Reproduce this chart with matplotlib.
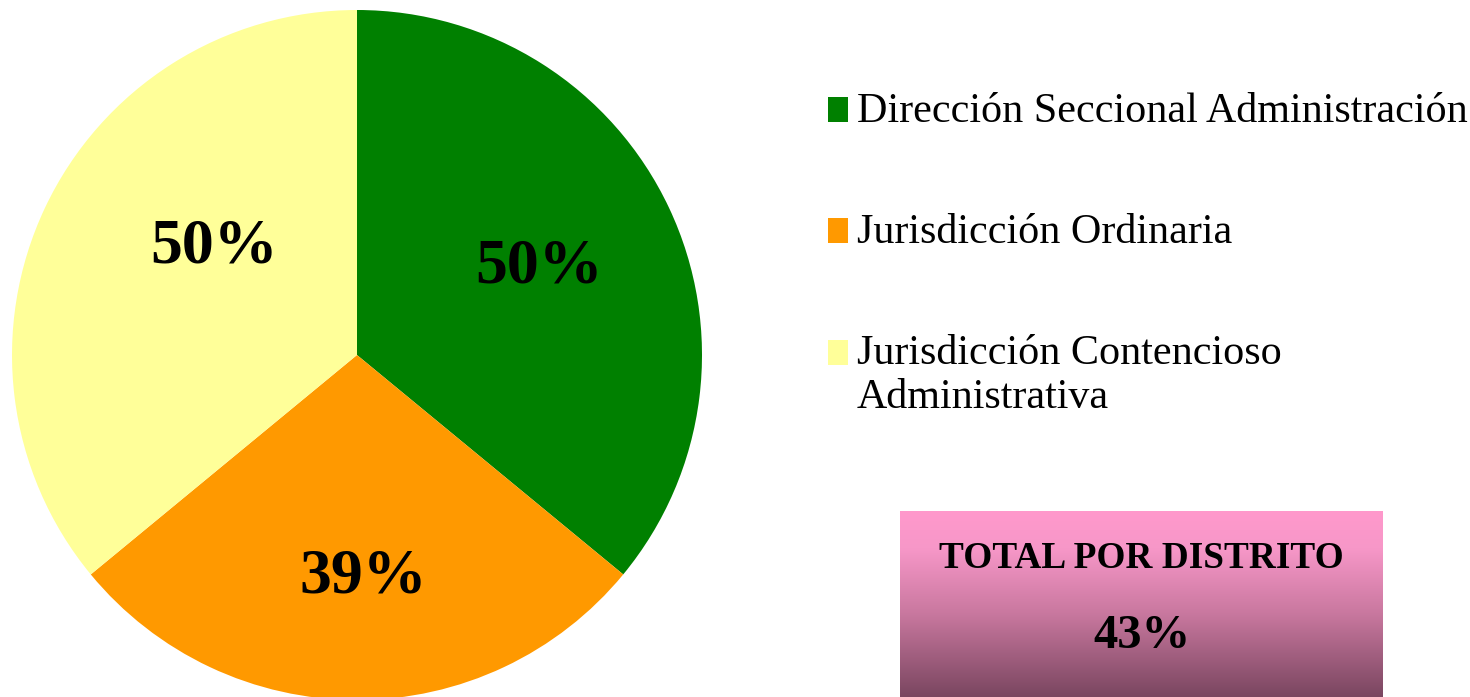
import numpy as np
import matplotlib

matplotlib.use('agg')
import matplotlib.pyplot as plt
from matplotlib.colors import LinearSegmentedColormap
from matplotlib.patches import Rectangle

# data
categories = ['Dirección Seccional Administración',
              'Jurisdicción Ordinaria',
              'Jurisdicción Contencioso\nAdministrativa']
values = [50, 39, 50]
colors = ['#008000', '#ff9900', '#ffff99']
total_label = 'TOTAL POR DISTRITO'
total_value = 43

W, H = 1470, 697
serif = 'Liberation Serif'


def fx(x):
    return x / W


def fy(y):
    # y measured from top in pixels
    return 1 - y / H


fig = plt.figure(figsize=(W / 100, H / 100), dpi=100)

# pie
ax = fig.add_axes([fx(12), fy(700), 690 / W, 690 / H])
wedges, _ = ax.pie(values, colors=colors, startangle=90,
                   counterclock=False, radius=1)
ax.set_xlim(-1, 1)
ax.set_ylim(-1, 1)
ax.axis('off')

# label positions inside each slice (data units, baseline)
label_pos = [(0.528, 0.209), (0.017, -0.687), (-0.414, 0.267)]
for v, (lx, ly) in zip(values, label_pos):
    ax.text(lx, ly, '%d%%' % v, ha='center', va='baseline',
            fontsize=46, fontweight='bold', family=serif)

# legend
rows_y = [122, 243, 365]
line_gap = 43
for cat, col, by in zip(categories, colors, rows_y):
    fig.patches.append(Rectangle((fx(828), fy(by)), 20 / W, 25 / H,
                                 transform=fig.transFigure,
                                 facecolor=col, edgecolor='none'))
    nlines = cat.count('\n') + 1
    fig.text(fx(857), fy(by + (nlines - 1) * line_gap), cat,
             ha='left', va='baseline', fontsize=30.3, family=serif,
             linespacing=1.19)

# total box with vertical gradient
bax = fig.add_axes([fx(900), fy(697), (1383 - 900) / W, (697 - 511) / H])
cmap = LinearSegmentedColormap.from_list(
    'box', [(0, '#ff99cc'), (0.2, '#f797c8'), (0.55, '#c9789f'),
            (1, '#7a4660')])
grad = np.linspace(0, 1, 256).reshape(-1, 1)
bax.imshow(grad, cmap=cmap, aspect='auto', extent=[0, 1, 0, 1],
           origin='upper')
bax.set_xlim(0, 1)
bax.set_ylim(0, 1)
bax.axis('off')
bax.text(0.5, 0.694, total_label, ha='center', va='baseline',
         fontsize=26.8, fontweight='bold', family=serif)
bax.text(0.5, 0.263, '%d%%' % total_value, ha='center', va='baseline',
         fontsize=35, fontweight='bold', family=serif)

plt.savefig('out.png', dpi=100)
